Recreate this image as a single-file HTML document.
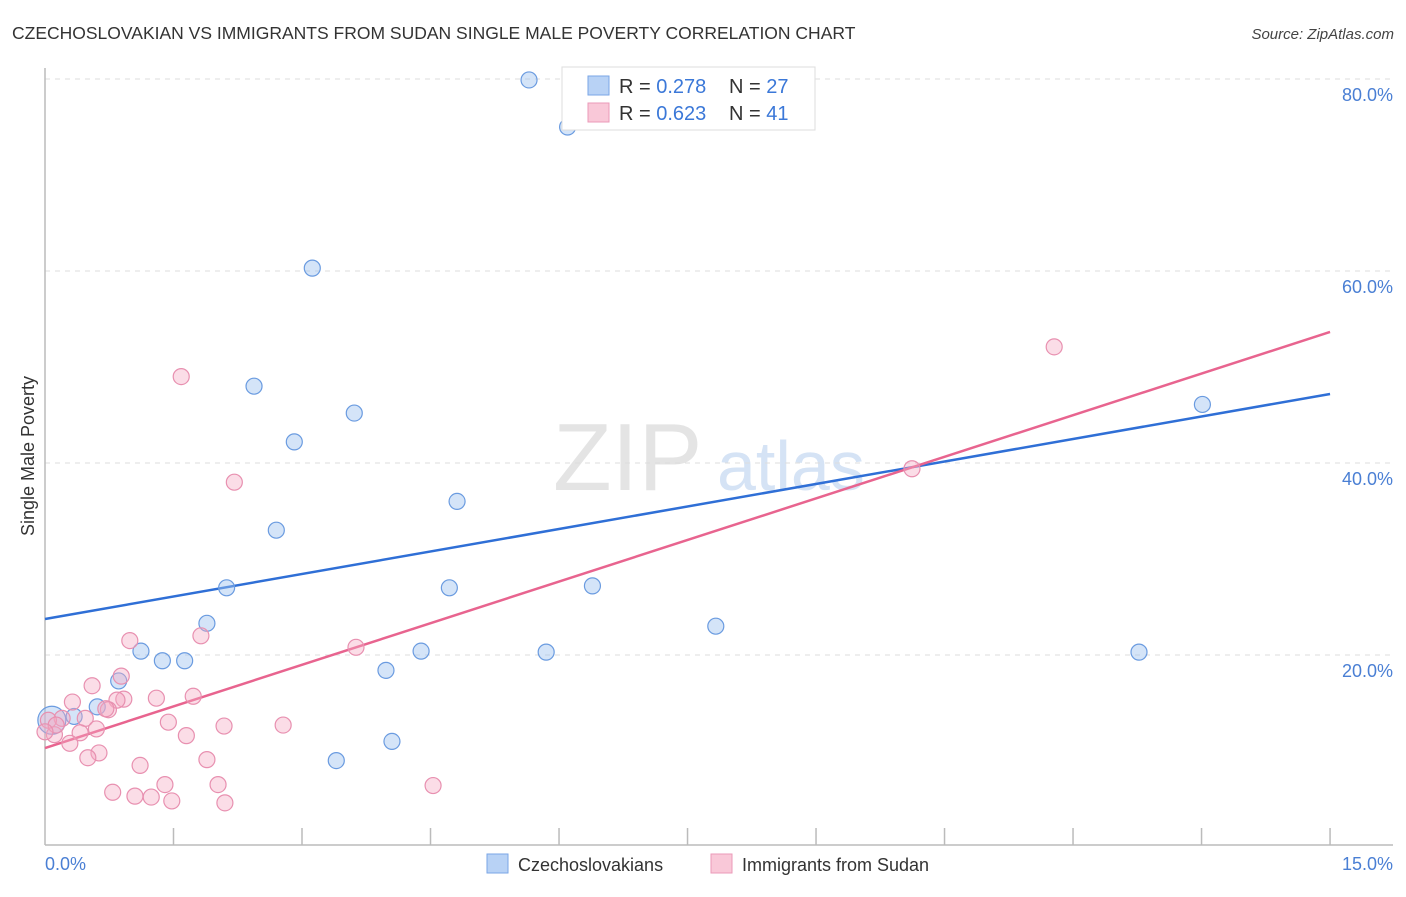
<!DOCTYPE html>
<html><head><meta charset="utf-8"><style>
body{margin:0;background:#fff;font-family:"Liberation Sans",sans-serif;}
svg text{font-family:"Liberation Sans",sans-serif;}
</style></head><body>
<svg id="chart" width="1406" height="892" xmlns="http://www.w3.org/2000/svg">
<text x="12" y="39" font-size="17.5" fill="#333">CZECHOSLOVAKIAN VS IMMIGRANTS FROM SUDAN SINGLE MALE POVERTY CORRELATION CHART</text>
<text x="1394" y="39" font-size="15" fill="#444" font-style="italic" text-anchor="end">Source: ZipAtlas.com</text>
<text x="553" y="490" font-size="96" fill="#e4e4e4" font-family="Liberation Serif">ZIP</text>
<text x="717" y="490" font-size="70" fill="#d5e3f5">atlas</text>
<g id="grid"></g>
<g id="axes"></g>
<g id="lines"></g>
<g id="points"></g>
<text transform="translate(34,456) rotate(-90)" font-size="18" fill="#333" text-anchor="middle">Single Male Poverty</text>
<text x="45" y="870" font-size="18" fill="#4a7fd4">0.0%</text>
<text x="1393" y="870" font-size="18" fill="#4a7fd4" text-anchor="end">15.0%</text>
<g>
<rect x="562" y="67" width="253" height="63" fill="#fff" stroke="#ddd"/>
<rect x="588" y="76" width="21" height="19" fill="#b8d2f5" stroke="#7aa6e6"/>
<rect x="588" y="103" width="21" height="19" fill="#f9c8d8" stroke="#eb9ab8"/>
<text x="619" y="93" font-size="20" fill="#333">R = <tspan fill="#3b78d8">0.278</tspan><tspan x="729">N = </tspan><tspan fill="#3b78d8">27</tspan></text>
<text x="619" y="120" font-size="20" fill="#333">R = <tspan fill="#3b78d8">0.623</tspan><tspan x="729">N = </tspan><tspan fill="#3b78d8"> 41</tspan></text>
</g>
<g>
<rect x="487" y="854" width="21" height="19" fill="#b8d2f5" stroke="#7aa6e6"/>
<text x="518" y="871" font-size="18" fill="#333">Czechoslovakians</text>
<rect x="711" y="854" width="21" height="19" fill="#f9c8d8" stroke="#eb9ab8"/>
<text x="742" y="871" font-size="18" fill="#333">Immigrants from Sudan</text>
</g>
</svg>
<script>
const yTicks=[20,40,60,80];
const yTickLabels=["20.0%","40.0%","60.0%","80.0%"];
const xTicks=[1.5,3,4.5,6,7.5,9,10.5,12,13.5,15];
const blueX=[5.65,6.10,3.12,2.44,3.61,2.91,4.81,2.70,2.12,4.72,6.39,1.89,7.83,1.12,1.37,1.63,4.39,5.85,12.77,3.98,0.86,0.61,0.34,4.05,3.40,13.51,0.08];
const blueY=[79.9,75.0,60.3,48.0,45.2,42.2,36.0,33.0,27.0,27.0,27.2,23.3,23.0,20.4,19.4,19.4,20.4,20.3,20.3,18.4,17.3,14.6,13.6,11.0,9.0,46.1,13.2];
const pinkX=[1.59,2.21,11.78,10.12,0.99,1.82,3.63,0.89,0.55,0.32,1.30,0.92,0.84,1.73,0.74,1.44,2.09,2.78,0.20,0.47,0.60,0.41,1.65,0.11,0.29,0.63,0.50,1.89,1.11,1.40,2.02,4.53,0.79,1.05,1.24,1.48,2.10,0.04,0.13,0.00,0.71];
const pinkY=[49.0,38.0,52.1,39.4,21.5,22.0,20.8,17.8,16.8,15.1,15.5,15.4,15.3,15.7,14.3,13.0,12.6,12.7,13.4,13.4,12.3,11.9,11.6,11.7,10.8,9.8,9.3,9.1,8.5,6.5,6.5,6.4,5.7,5.3,5.2,4.8,4.6,13.2,12.7,12.0,14.4];
const blueLine=[23.75,47.19];
const pinkLine=[10.31,53.65];
const NS="http://www.w3.org/2000/svg";
const sx=v=>45+v*85.67, sy=v=>847-v*9.6;
function mk(tag,attrs,parent){const e=document.createElementNS(NS,tag);for(const k in attrs)e.setAttribute(k,attrs[k]);document.getElementById(parent).appendChild(e);return e;}
yTicks.forEach((t,i)=>{
 const g=mk('line',{x1:45,x2:1393,y1:sy(t),y2:sy(t),stroke:'#ddd','stroke-dasharray':'5,5'},'grid');
 
 
 const l=mk('text',{x:1393,y:sy(t)+22,'font-size':18,fill:'#4a7fd4','text-anchor':'end'},'grid');
 l.textContent=yTickLabels[i];
 
 
});
const ax=mk('line',{x1:45,x2:45,y1:68,y2:845,stroke:'#bbb','stroke-width':1.5},'axes');


const bx=mk('line',{x1:45,x2:1393,y1:845,y2:845,stroke:'#bbb','stroke-width':1.5},'axes');


xTicks.forEach(t=>{
 const k=mk('line',{x1:sx(t),x2:sx(t),y1:828,y2:845,stroke:'#bbb','stroke-width':1.5},'axes');
 
 
});
const bl=mk('line',{x1:sx(0),x2:sx(15),y1:sy(blueLine[0]),y2:sy(blueLine[1]),stroke:'#2f6fd6','stroke-width':2.5},'lines');


const pl=mk('line',{x1:sx(0),x2:sx(15),y1:sy(pinkLine[0]),y2:sy(pinkLine[1]),stroke:'#e8648f','stroke-width':2.5},'lines');


blueX.forEach((x,i)=>{
 const r=(i===blueX.length-1)?14:8;
 const c=mk('circle',{cx:sx(x),cy:sy(blueY[i]),r:r,fill:'rgba(160,195,240,0.45)',stroke:'#6a9be0','stroke-width':1.2},'points');
 
 
});
pinkX.forEach((x,i)=>{
 const c=mk('circle',{cx:sx(x),cy:sy(pinkY[i]),r:8,fill:'rgba(245,170,195,0.4)',stroke:'#e890b0','stroke-width':1.2},'points');
 
 
});
</script>
</body></html>
